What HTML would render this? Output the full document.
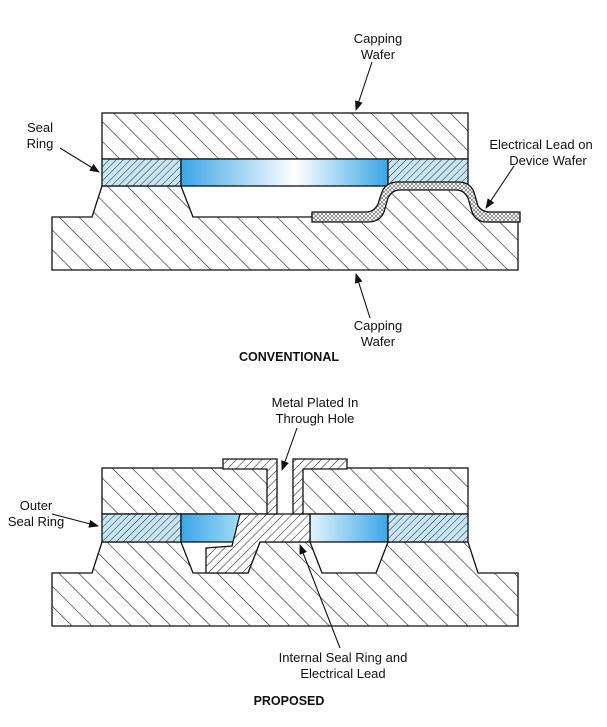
<!DOCTYPE html>
<html><head><meta charset="utf-8"><style>
html,body{margin:0;padding:0;background:#fff;}
svg{display:block;font-family:"Liberation Sans",sans-serif;}
</style></head><body>
<svg width="607" height="727" viewBox="0 0 607 727" xmlns="http://www.w3.org/2000/svg">
<defs>
<pattern id="hw" patternUnits="userSpaceOnUse" width="14" height="14" patternTransform="rotate(-45)">
<rect width="14" height="14" fill="#fff"/><line x1="0" y1="0" x2="0" y2="14" stroke="#222" stroke-width="1.2"/></pattern>
<pattern id="hs" patternUnits="userSpaceOnUse" width="5" height="5" patternTransform="rotate(45)">
<rect width="5" height="5" fill="#c6e6f6"/><line x1="0" y1="0" x2="0" y2="5" stroke="#222" stroke-width="1"/></pattern>
<pattern id="hm" patternUnits="userSpaceOnUse" width="6" height="6" patternTransform="rotate(45)">
<rect width="6" height="6" fill="#fff"/><line x1="0" y1="0" x2="0" y2="6" stroke="#222" stroke-width="1"/></pattern>
<pattern id="hx" patternUnits="userSpaceOnUse" width="4" height="4">
<rect width="4" height="4" fill="#fff"/><path d="M0 0L4 4M4 0L0 4" stroke="#555" stroke-width="0.6"/></pattern>
<linearGradient id="bl" x1="0" x2="1">
<stop offset="0" stop-color="#3aa6e6"/><stop offset="0.55" stop-color="#ffffff"/><stop offset="1" stop-color="#3aa6e6"/></linearGradient>
<linearGradient id="bl1" x1="0" x2="1"><stop offset="0" stop-color="#3aa6e6"/><stop offset="1" stop-color="#aee0f8"/></linearGradient>
<linearGradient id="bl2" x1="0" x2="1"><stop offset="0" stop-color="#e4f4fc"/><stop offset="1" stop-color="#3aa6e6"/></linearGradient>
<marker id="ar" markerWidth="10" markerHeight="8" refX="9" refY="4" orient="auto" markerUnits="userSpaceOnUse">
<path d="M0 0L10 4L0 8z" fill="#111"/></marker>
</defs>
<g stroke="#111" stroke-width="1.3">
<!-- TOP DIAGRAM -->
<rect x="102" y="113" width="366" height="46" fill="url(#hw)"/>
<path d="M102 186 L92 217 L52 217 L52 270 L518 270 L518 222 L488 222 Q478 222 474 212 L470 196 Q466 186 456 186 L398 186 Q390 186 386 196 L382 206 Q378 214 370 214 L312 214 L312 217 L193 217 L181 186 Z" fill="url(#hw)"/>
<rect x="102" y="159" width="79" height="27" fill="url(#hs)"/>
<rect x="181" y="159" width="207" height="27" fill="url(#bl)"/>
<rect x="388" y="159" width="80" height="27" fill="url(#hs)"/>
<path d="M312 212 L366 212 Q374 212 378 204 L382 192 Q386 182 398 182 L458 182 Q470 182 474 192 L478 206 Q482 212 490 212 L520 212 L520 222 L486 222 Q476 222 472 212 L468 198 Q464 190 456 190 L400 190 Q392 190 388 198 L384 212 Q380 222 368 222 L312 222 Z" fill="url(#hx)"/>
<!-- BOTTOM DIAGRAM -->
<rect x="102" y="468" width="366" height="46" fill="url(#hw)"/>
<rect x="277" y="466" width="16" height="48" fill="#fff" stroke="none"/>
<path d="M102 542 L92 573 L52 573 L52 626 L518 626 L518 573 L478 573 L468 542 L388 542 L376 573 L322 573 L310 542 L260 542 L248 573 L193 573 L181 542 Z" fill="url(#hw)"/>
<rect x="102" y="514" width="79" height="28" fill="url(#hs)"/>
<rect x="181" y="514" width="65" height="28" fill="url(#bl1)"/>
<rect x="310" y="514" width="78" height="28" fill="url(#bl2)"/>
<rect x="388" y="514" width="80" height="28" fill="url(#hs)"/>
<path d="M240 514 L310 514 L310 542 L260 542 L248 573 L206 573 L206 548 L232 546 Z" fill="url(#hm)"/>
<path d="M223 459 L277 459 L277 514 L267 514 L267 469 L223 469 Z" fill="url(#hm)"/>
<path d="M293 459 L347 459 L347 469 L303 469 L303 514 L293 514 Z" fill="url(#hm)"/>
</g>
<g stroke="#111" stroke-width="1.1" fill="none" marker-end="url(#ar)">
<line x1="372" y1="62" x2="356" y2="110"/>
<line x1="60" y1="148" x2="99" y2="172"/>
<line x1="514" y1="166" x2="486" y2="208"/>
<line x1="370" y1="318" x2="356" y2="274"/>
<line x1="297" y1="428" x2="282" y2="470"/>
<line x1="52" y1="514" x2="98" y2="526"/>
<line x1="340" y1="648" x2="300" y2="545"/>
</g>
<g font-size="13" fill="#111" text-anchor="middle">
<text x="378" y="43">Capping</text><text x="378" y="59">Wafer</text>
<text x="40" y="132">Seal</text><text x="40" y="148">Ring</text>
<text x="541" y="149">Electrical Lead on</text><text x="548" y="165">Device Wafer</text>
<text x="378" y="330">Capping</text><text x="378" y="346">Wafer</text>
<text x="289" y="361" font-weight="bold" font-size="12.5">CONVENTIONAL</text>
<text x="315" y="407">Metal Plated In</text><text x="315" y="423">Through Hole</text>
<text x="36" y="510">Outer</text><text x="36" y="526">Seal Ring</text>
<text x="343" y="662">Internal Seal Ring and</text><text x="343" y="678">Electrical Lead</text>
<text x="289" y="705" font-weight="bold" font-size="12.5">PROPOSED</text>
</g>
</svg>
</body></html>
